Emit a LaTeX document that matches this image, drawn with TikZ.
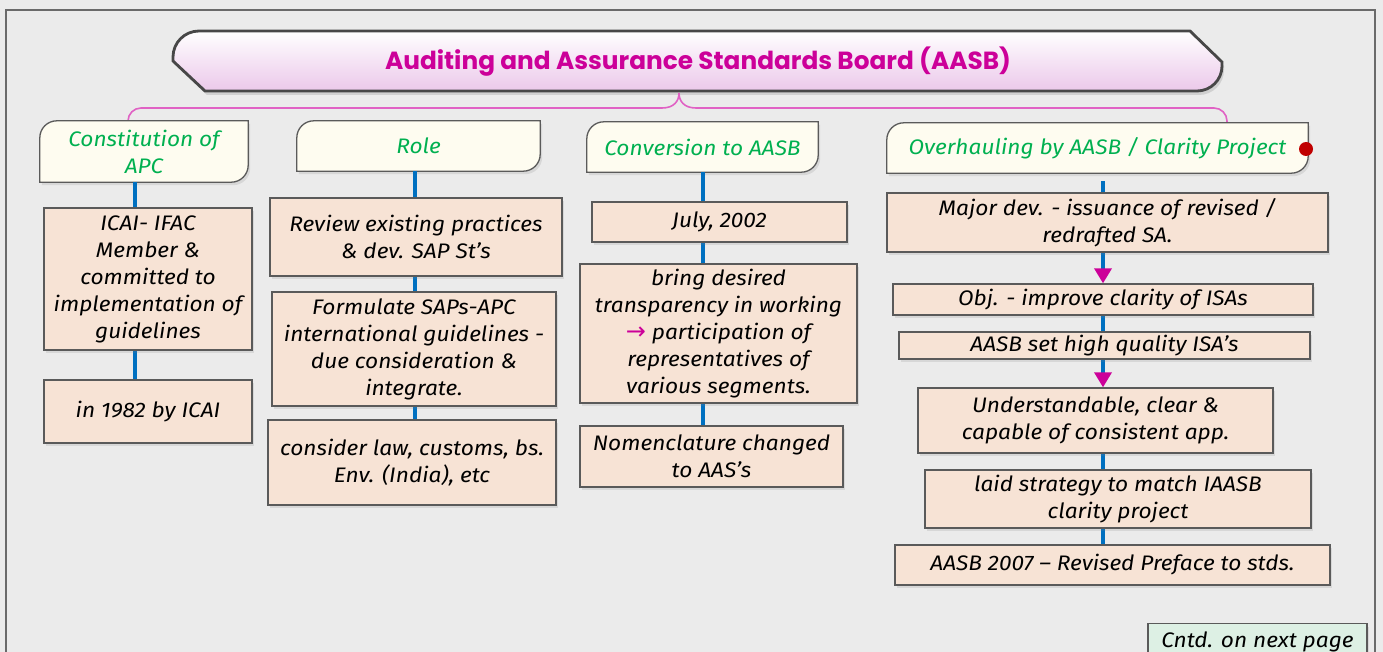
\documentclass[tikz,border=0pt]{standalone}
\usepackage{fontspec}
\setmainfont{Fira Sans}[FakeStretch=1.08]
\newfontfamily\titlefont{Poppins}
\newfontfamily\symfont{DejaVu Sans}
\usetikzlibrary{shadows,arrows.meta}
\definecolor{bgc}{HTML}{EBEBEB}
\definecolor{framec}{HTML}{6A6A6A}
\definecolor{peach}{HTML}{F7E3D5}
\definecolor{bord}{HTML}{5A5A5A}
\definecolor{cream}{HTML}{FEFCF0}
\definecolor{hgreen}{HTML}{00B050}
\definecolor{mag}{HTML}{CC0099}
\definecolor{bracec}{HTML}{E062C4}
\definecolor{cblue}{HTML}{0070C0}
\definecolor{dotred}{HTML}{C00000}
\definecolor{cntdfill}{HTML}{DDF0E4}
\definecolor{pinkfill}{HTML}{FCE4FC}
\definecolor{pinkdark}{HTML}{EBC8EA}
\newcommand\bodyf{\fontsize{21}{27}\selectfont\itshape}
\pgfdeclarelayer{back}
\pgfdeclarelayer{shapes}
\pgfsetlayers{back,shapes,main}
\tikzset{
  box/.style={draw=bord, fill=peach, line width=1.3pt, align=center, inner sep=2pt, font=\bodyf,
    drop shadow={shadow xshift=2pt,shadow yshift=-3pt,opacity=0.18}},
  hdr/.style={align=center, inner sep=0pt, font=\bodyf, text=hgreen},
  hshape/.style={draw=bord, fill=cream, line width=1.3pt,
    drop shadow={shadow xshift=2pt,shadow yshift=-3pt,opacity=0.18}},
  conn/.style={draw=cblue, line width=3.5pt},
  marrow/.style={conn, -{Triangle[length=15pt,width=17pt,color=mag]}},
  brace/.style={draw=bracec, line width=1.6pt},
  banner/.style={draw=black!72, line width=2.8pt, top color=white, middle color=pinkfill, bottom color=pinkdark,
    drop shadow={shadow xshift=2pt,shadow yshift=-4pt,opacity=0.25}},
}
\newcommand\hdrbox[1]{\draw[hshape] (#1.south west) -- ([yshift=-17pt]#1.north west) arc[start angle=180,end angle=90,radius=17pt] -- (#1.north east) -- ([yshift=17pt]#1.south east) arc[start angle=0,end angle=-90,radius=17pt] -- cycle;}
\begin{document}
\begin{tikzpicture}[x=1pt,y=-1pt]
\useasboundingbox (0,0) rectangle (1383,652);
\clip (0,0) rectangle (1383,652);
\begin{pgfonlayer}{back}
\fill[bgc] (0,0) rectangle (1383,652);
\draw[framec, line width=1.6pt] (6,670) -- (6,10) -- (1375,10) -- (1375,670);
\end{pgfonlayer}

% title
\node[font=\titlefont\bfseries\fontsize{24.8}{28}\selectfont, text=mag] (title) at (698,62) {Auditing and Assurance Standards Board (AASB)};

% headers
\node[hdr, minimum width=208pt, minimum height=61pt] (h1) at (144,151.5) {Constitution of\\APC};
\node[hdr, minimum width=243pt, minimum height=50pt] (h2) at (418.5,146) {Role};
\node[hdr, minimum width=231pt, minimum height=50pt] (h3) at (702.5,147) {Conversion to AASB};
\node[hdr, minimum width=421pt, minimum height=50pt] (h4) at (1097.5,148) {Overhauling by AASB / Clarity Project};

% column 1
\node[box, minimum width=208pt, minimum height=142pt] (b11) at (148,279) {ICAI- IFAC\\Member \&\\committed to\\implementation of\\guidelines};
\node[box, minimum width=208pt, minimum height=63pt] (b12) at (148,411.5) {in 1982 by ICAI};

% column 2
\node[box, minimum width=292pt, minimum height=78pt] (b21) at (416,237) {Review existing practices\\\& dev. SAP St’s};
\node[box, minimum width=284pt, minimum height=114pt] (b22) at (414,349) {Formulate SAPs-APC\\international guidelines -\\due consideration \&\\integrate.};
\node[box, minimum width=288pt, minimum height=85pt] (b23) at (412,462.5) {consider law, customs, bs.\\Env. (India), etc};

% column 3
\node[box, minimum width=255pt, minimum height=40pt] (b31) at (719.5,222) {July, 2002};
\node[box, minimum width=277pt, minimum height=139pt] (b32) at (718.5,333.5) {bring desired\\transparency in working\\{\symfont\upshape\fontsize{24}{27}\selectfont\color{mag}→} participation of\\representatives of\\various segments.};
\node[box, minimum width=263pt, minimum height=61pt] (b33) at (711.5,456.5) {Nomenclature changed\\to AAS’s};

% column 4
\node[box, minimum width=441pt, minimum height=59pt] (b41) at (1107.5,222.5) {Major dev. - issuance of revised /\\redrafted SA.};
\node[box, minimum width=420pt, minimum height=31pt] (b42) at (1103,299.5) {Obj. - improve clarity of ISAs};
\node[box, minimum width=411pt, minimum height=27pt] (b43) at (1104.5,345.5) {AASB set high quality ISA’s};
\node[box, minimum width=355pt, minimum height=65pt] (b44) at (1095.5,420.5) {Understandable, clear \&\\capable of consistent app.};
\node[box, minimum width=386pt, minimum height=58pt] (b45) at (1118,499) {laid strategy to match IAASB\\clarity project};
\node[box, minimum width=435pt, minimum height=40pt] (b46) at (1112.5,565) {AASB 2007 – Revised Preface to stds.};

% continued
\node[box, fill=cntdfill, minimum width=219pt, minimum height=40pt, anchor=north] (cntd) at (1257.5,623) {\raisebox{8pt}{Cntd. on next page}};

% red dot
\node[circle, fill=dotred, inner sep=0pt, minimum size=14pt] (dot) at (1306,149) {};

% column x coordinates
\coordinate (c1) at (135,0);
\coordinate (c2) at (415,0);
\coordinate (c3) at (703,0);
\coordinate (c4) at (1103,0);
\coordinate (bl) at (128,0);
\coordinate (br) at (1227,0);
\coordinate (lc) at (662,108);
\coordinate (rc) at (696,108);
\coordinate (peak) at (679,93);

\begin{pgfonlayer}{shapes}
% banner
\draw[banner] (205,91) -- (173,61) -- (173,57) arc[start angle=180,end angle=90,radius=26pt] -- (1190,31) -- (1222,62) -- (1222,66) arc[start angle=0,end angle=-90,radius=25pt] -- cycle;
% brace
\draw[brace, rounded corners=13pt] (h1.north -| bl) |- (lc);
\draw[brace] (lc) .. controls (674,108) and (679,101) .. (peak) .. controls (679,101) and (684,108) .. (rc);
\draw[brace, rounded corners=13pt] (rc) -| (h4.north -| br);
% header shapes
\hdrbox{h1}
\hdrbox{h2}
\hdrbox{h3}
\hdrbox{h4}
% connectors
\draw[conn] (h1.south -| c1) -- (b11.north -| c1);
\draw[conn] (b11.south -| c1) -- (b12.north -| c1);
\draw[conn] (h2.south -| c2) -- (b21.north -| c2);
\draw[conn] (b21.south -| c2) -- (b22.north -| c2);
\draw[conn] (b22.south -| c2) -- (b23.north -| c2);
\draw[conn] (h3.south -| c3) -- (b31.north -| c3);
\draw[conn] (b31.south -| c3) -- (b32.north -| c3);
\draw[conn] (b32.south -| c3) -- (b33.north -| c3);
\draw[conn] ([yshift=-8pt]h4.south -| c4) -- (b41.north -| c4);
\draw[marrow] (b41.south -| c4) -- (b42.north -| c4);
\draw[conn] (b42.south -| c4) -- (b43.north -| c4);
\draw[marrow] (b43.south -| c4) -- (b44.north -| c4);
\draw[conn] (b44.south -| c4) -- (b45.north -| c4);
\draw[conn] (b45.south -| c4) -- (b46.north -| c4);
\end{pgfonlayer}
\end{tikzpicture}
\end{document}
